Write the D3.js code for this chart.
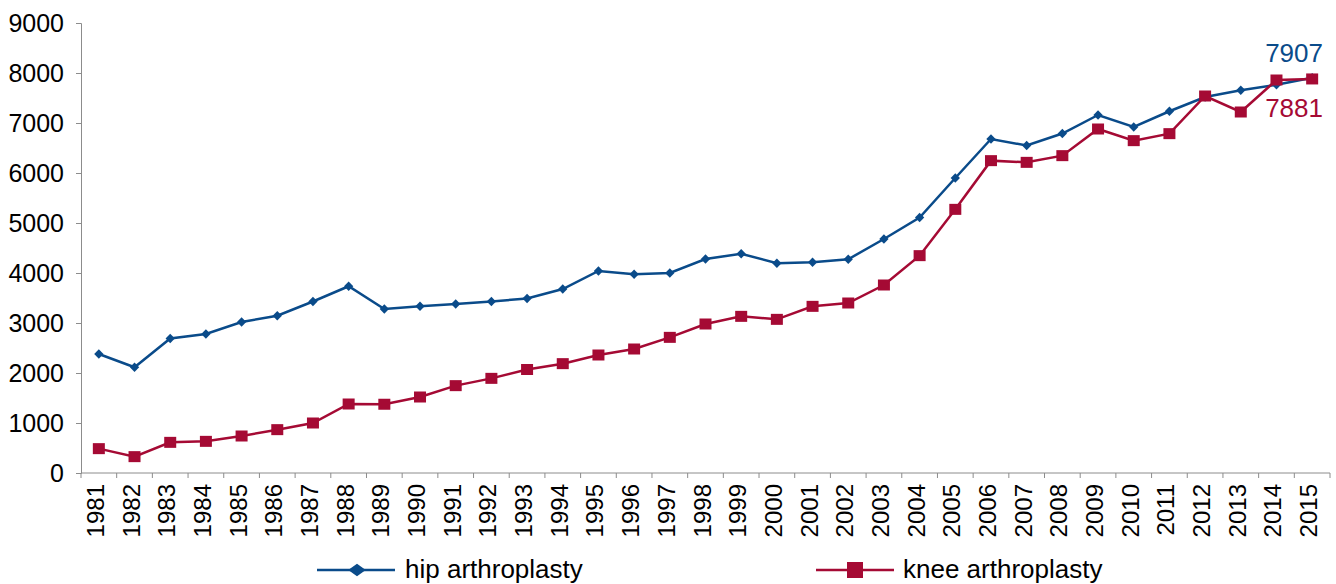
<!DOCTYPE html>
<html>
<head>
<meta charset="utf-8">
<script src="https://cdn.jsdelivr.net/npm/d3@7.9.0/dist/d3.min.js"></script>
<style>
  html, body { margin: 0; padding: 0; background: #fff; }
  svg { display: block; font-family: "Liberation Sans", Arial, sans-serif; }
</style>
</head>
<body>
<svg id="chart" width="1336" height="584"></svg>
<script>
const years = d3.range(1981, 2016).map(String);
const hip = [2380, 2115, 2690, 2780, 3020, 3145, 3430, 3735, 3280, 3335, 3380, 3430, 3490,
  3680, 4040, 3975, 4000, 4280, 4385, 4195, 4215, 4275, 4680, 5110, 5900, 6680, 6550,
  6790, 7160, 6920, 7235, 7520, 7655, 7765, 7907];
const knee = [487, 327, 613, 633, 740, 867, 1000, 1380, 1375, 1520, 1747, 1893, 2070,
  2187, 2360, 2480, 2713, 2980, 3133, 3073, 3333, 3400, 3760, 4347, 5273, 6247, 6213,
  6347, 6880, 6647, 6787, 7540, 7220, 7860, 7881];
const yTicks = [0, 1000, 2000, 3000, 4000, 5000, 6000, 7000, 8000, 9000];
const seriesNames = ['hip arthroplasty', 'knee arthroplasty'];
const endLabels = ['7907', '7881'];

const blue = '#0a4b8a';
const red = '#a50a34';
const axisGray = '#8c8c8c';

const svg = d3.select('#chart');
const plotL = 81, plotR = 1330, plotT = 23, plotB = 473;

const x = d3.scaleBand().domain(years).range([plotL, plotR]);
const y = d3.scaleLinear().domain([0, 9000]).range([plotB, plotT]);

// y axis
const yAxis = svg.append('g')
  .attr('transform', `translate(${plotL},0)`)
  .call(d3.axisLeft(y).tickValues(yTicks).tickFormat(d3.format('d')).tickSize(5).tickPadding(12));
yAxis.select('.domain').attr('stroke', axisGray);
yAxis.selectAll('.tick line').attr('stroke', axisGray);
yAxis.selectAll('.tick text')
  .attr('font-size', 25).attr('fill', '#000')
  .attr('font-family', '"Liberation Sans", Arial, sans-serif');

// x axis: ticks at category boundaries
const xg = svg.append('g');
xg.append('line')
  .attr('x1', plotL).attr('x2', plotR)
  .attr('y1', plotB).attr('y2', plotB)
  .attr('stroke', axisGray);
const bounds = years.map(d => x(d)).concat([plotR]);
xg.selectAll('line.tk').data(bounds).join('line')
  .attr('class', 'tk')
  .attr('x1', d => d).attr('x2', d => d)
  .attr('y1', plotB).attr('y2', plotB + 5)
  .attr('stroke', axisGray);
xg.selectAll('text').data(years).join('text')
  .attr('transform', d => `translate(${x(d) + x.bandwidth() / 2 + 5},${plotB + 11}) rotate(-90)`)
  .attr('text-anchor', 'end')
  .attr('font-size', 24)
  .attr('fill', '#000')
  .text(d => d);

const cx = d => x(d) + x.bandwidth() / 2;
const line = d3.line().x((d, i) => cx(years[i])).y(d => y(d));

// hip series
svg.append('path').datum(hip)
  .attr('d', line).attr('fill', 'none')
  .attr('stroke', blue).attr('stroke-width', 2.5);
const diamond = d3.symbol().type(d3.symbolDiamond2).size(55);
svg.selectAll('path.hip').data(hip).join('path')
  .attr('class', 'hip')
  .attr('d', diamond)
  .attr('transform', (d, i) => `translate(${cx(years[i])},${y(d)})`)
  .attr('fill', blue);

// knee series
svg.append('path').datum(knee)
  .attr('d', line).attr('fill', 'none')
  .attr('stroke', red).attr('stroke-width', 2.5);
svg.selectAll('rect.knee').data(knee).join('rect')
  .attr('class', 'knee')
  .attr('x', (d, i) => cx(years[i]) - 6)
  .attr('y', d => y(d) - 5.5)
  .attr('width', 12).attr('height', 11)
  .attr('fill', red);

// end labels
svg.append('text').attr('x', 1323).attr('y', 62)
  .attr('text-anchor', 'end').attr('font-size', 26).attr('fill', blue)
  .text(endLabels[0]);
svg.append('text').attr('x', 1323).attr('y', 117)
  .attr('text-anchor', 'end').attr('font-size', 26).attr('fill', red)
  .text(endLabels[1]);

// legend
const lg = svg.append('g');
const ly = 570;
lg.append('line').attr('x1', 317).attr('x2', 395).attr('y1', ly).attr('y2', ly)
  .attr('stroke', blue).attr('stroke-width', 2.5);
lg.append('path').attr('d', d3.symbol().type(d3.symbolDiamond2).size(100))
  .attr('transform', `translate(357,${ly}) scale(1.4,1)`).attr('fill', blue);
lg.append('text').attr('x', 405).attr('y', ly + 8).attr('font-size', 26).attr('fill', '#000')
  .text(seriesNames[0]);

lg.append('line').attr('x1', 816).attr('x2', 894).attr('y1', ly).attr('y2', ly)
  .attr('stroke', red).attr('stroke-width', 2.5);
lg.append('rect').attr('x', 847).attr('y', ly - 8).attr('width', 16).attr('height', 16)
  .attr('fill', red);
lg.append('text').attr('x', 903).attr('y', ly + 8).attr('font-size', 26).attr('fill', '#000')
  .text(seriesNames[1]);
</script>
</body>
</html>
